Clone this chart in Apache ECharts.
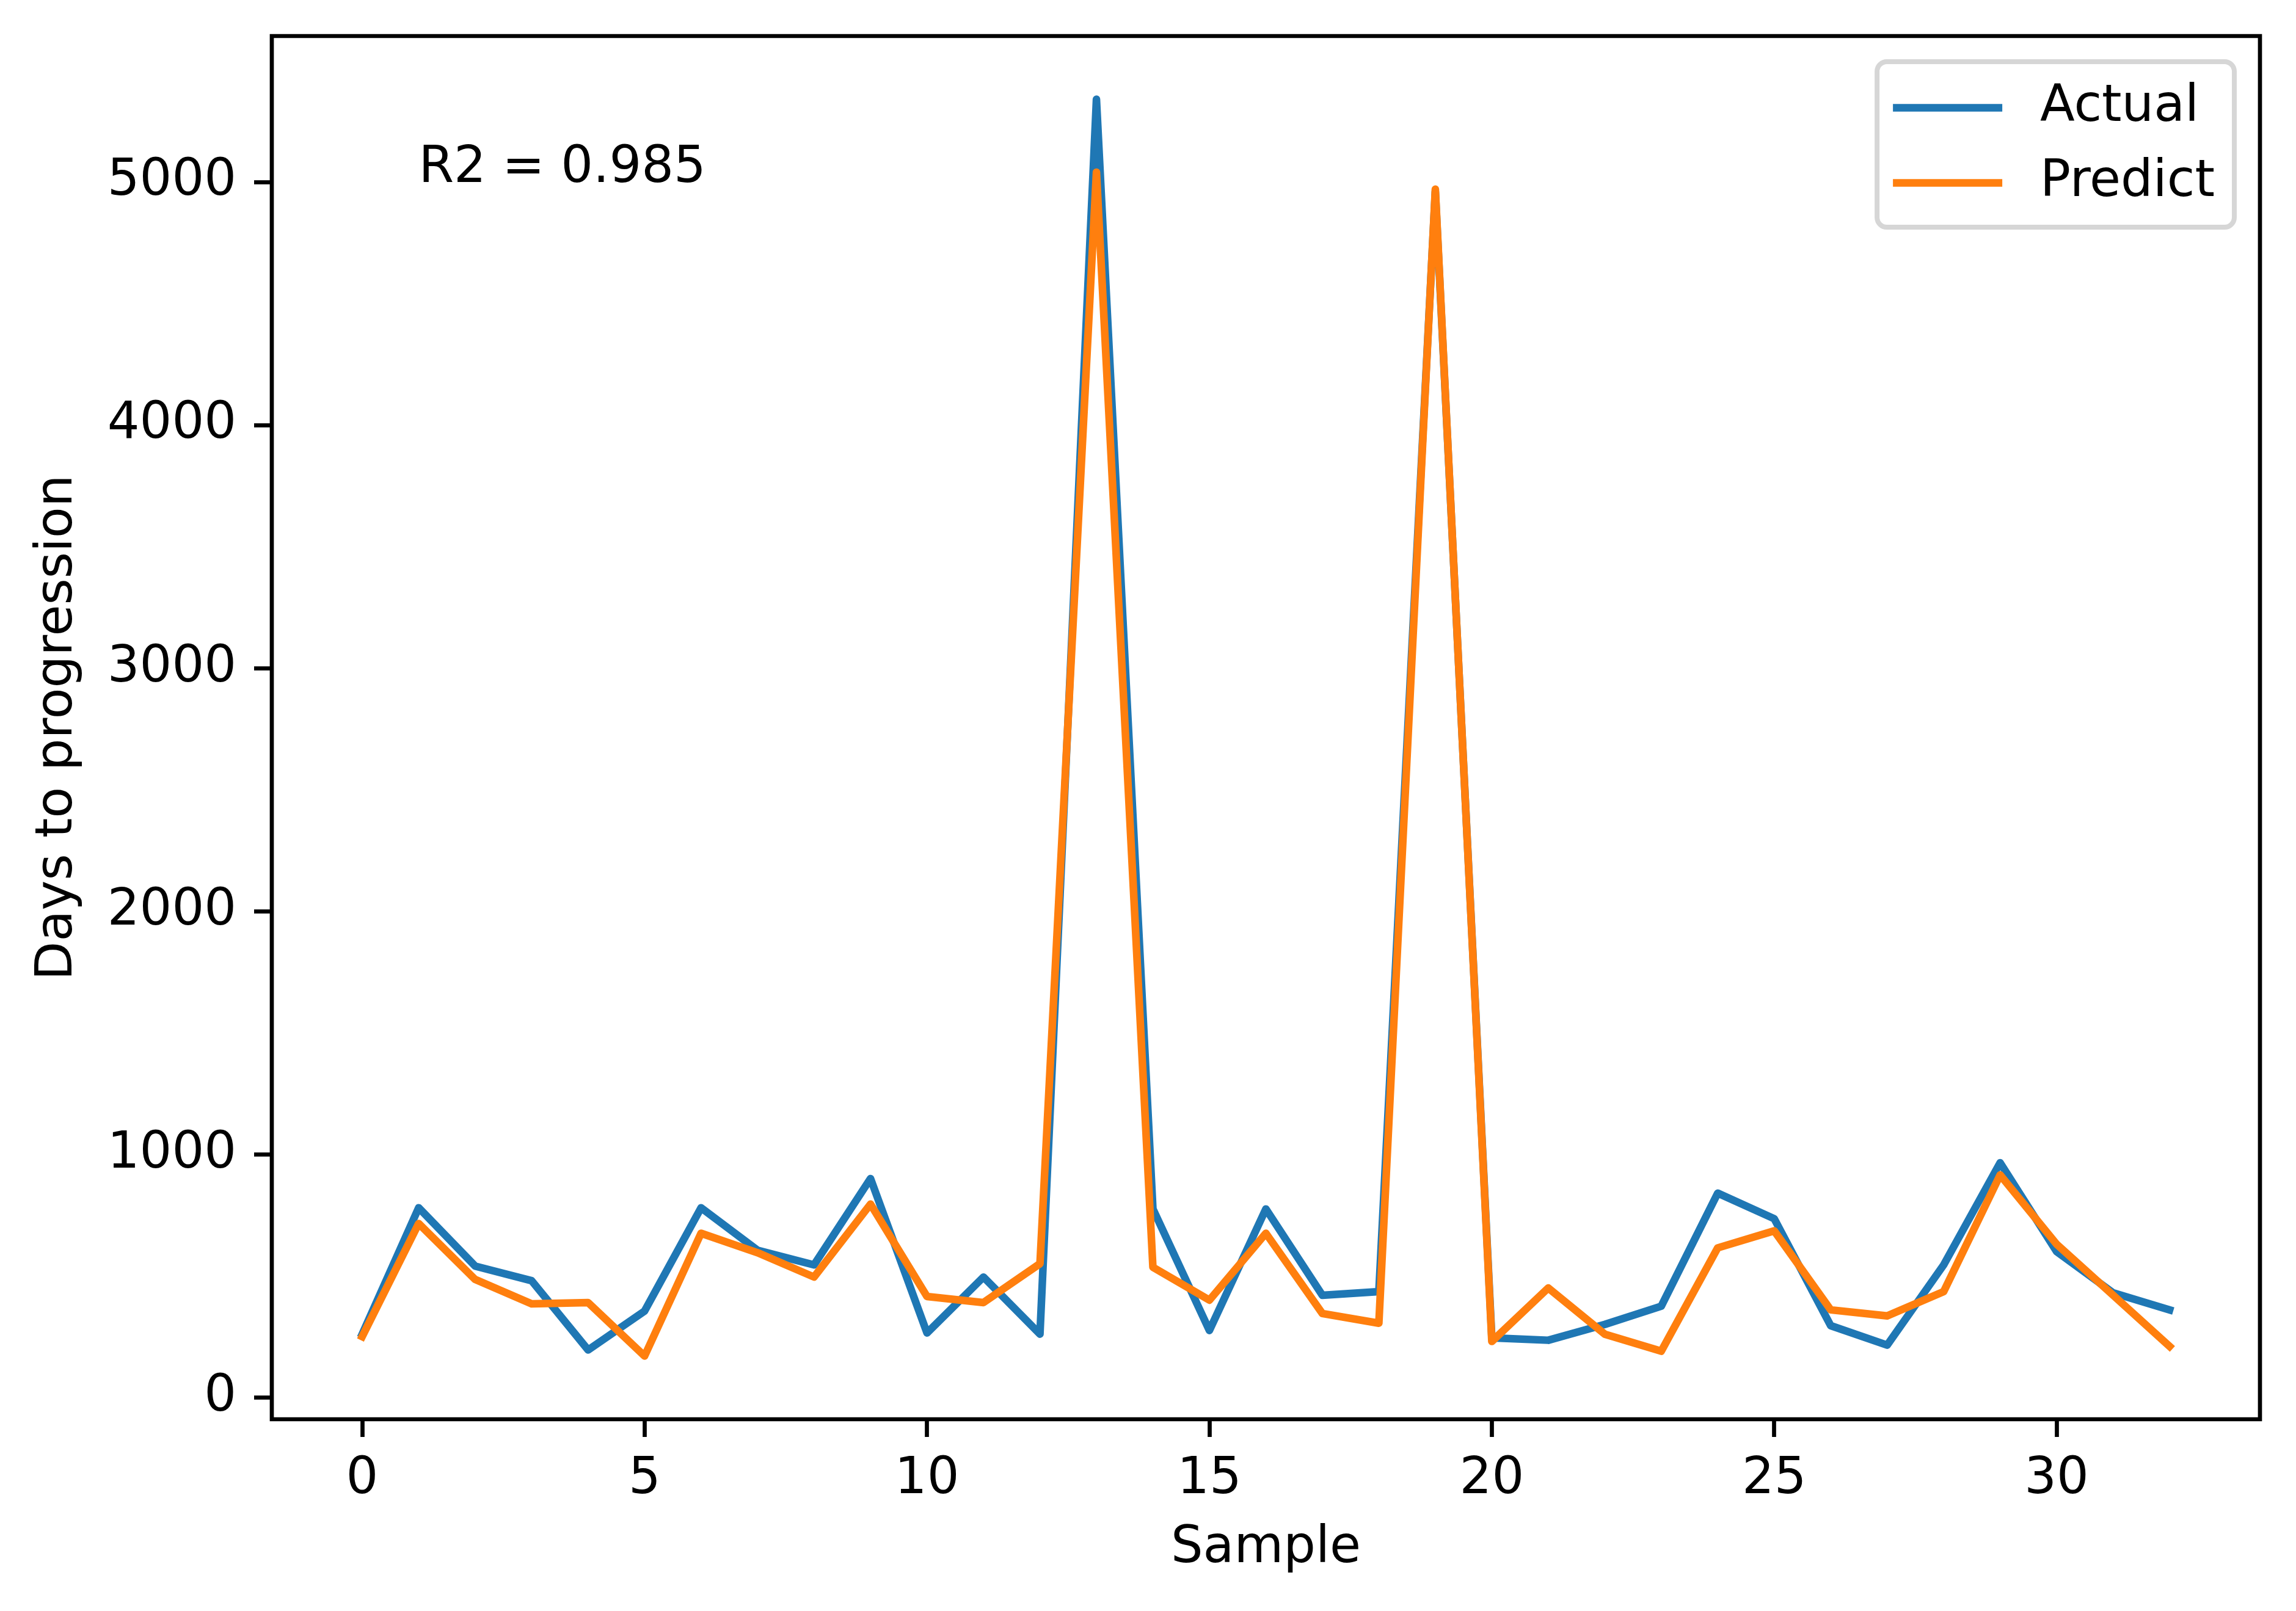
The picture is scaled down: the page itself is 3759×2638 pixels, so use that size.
<!DOCTYPE html>
<html>
<head>
<meta charset="utf-8">
<script src="https://cdn.jsdelivr.net/npm/echarts@6/dist/echarts.min.js"></script>
<style>
  html, body { margin: 0; padding: 0; background: #fff; }
  #chart { width: 3759px; height: 2638px; }
</style>
</head>
<body>
<div id="chart"></div>
<script>
// sample index on the x axis
const samples = [0, 1, 2, 3, 4, 5, 6, 7, 8, 9, 10, 11, 12, 13, 14, 15, 16,
  17, 18, 19, 20, 21, 22, 23, 24, 25, 26, 27, 28, 29, 30, 31, 32];
// days to progression
const actual = [260, 780, 540, 480, 195, 355, 780, 605, 545, 900, 265, 495, 260,
  5340, 775, 275, 775, 420, 435, 4960, 245, 235, 300, 375, 840, 735, 295, 215,
  545, 965, 600, 430, 360];
const predict = [250, 715, 485, 385, 390, 170, 675, 595, 495, 795, 415, 390, 550,
  5040, 535, 400, 675, 345, 305, 4970, 230, 450, 260, 190, 615, 685, 360, 335,
  435, 915, 630, 420, 210];
const xTicks = [0, 5, 10, 15, 20, 25, 30];
const yTicks = [0, 1000, 2000, 3000, 4000, 5000];
const r2Text = 'R2 = 0.985';
const r2Pos = [1, 5000];

const FONT = 'DejaVu Sans';
const FS = 83;

let chart = echarts.init(document.getElementById('chart'), null, {renderer: 'canvas'});

let pairs = (xs, ys) => xs.map((x, i) => [x, ys[i]]);

let tickStyle = {
  show: true,
  inside: false,
  length: 29,
  lineStyle: {color: '#000', width: 6.7}
};

let option = {
  backgroundColor: '#fff',
  animation: false,
  grid: {
    left: 445,
    right: 59,
    top: 59,
    bottom: 314,
    show: true,
    borderColor: '#000',
    borderWidth: 6.7,
    backgroundColor: '#fff'
  },
  legend: {
    data: ['Actual', 'Predict'],
    orient: 'vertical',
    right: 101,
    top: 101,
    icon: 'rect',
    itemWidth: 179,
    itemHeight: 12.5,
    itemGap: 40,
    padding: [34, 32, 31, 26],
    borderColor: '#d6d6d6',
    borderWidth: 8,
    borderRadius: 16,
    backgroundColor: '#fff',
    textStyle: {
      fontFamily: FONT,
      fontSize: FS,
      color: '#000',
      padding: [0, 0, 0, 57]
    }
  },
  xAxis: {
    type: 'value',
    min: -1.6,
    max: 33.6,
    name: 'Sample',
    nameLocation: 'middle',
    nameGap: 171,
    nameTextStyle: {fontFamily: FONT, fontSize: FS, color: '#000'},
    axisLine: {show: false, onZero: false},
    splitLine: {show: false},
    axisTick: Object.assign({customValues: xTicks}, tickStyle),
    axisLabel: {
      customValues: xTicks,
      margin: 58,
      formatter: v => String(v),
      fontFamily: FONT,
      fontSize: FS,
      color: '#000'
    }
  },
  yAxis: {
    type: 'value',
    min: -90,
    max: 5600,
    name: 'Days to progression',
    nameLocation: 'middle',
    nameRotate: 90,
    nameGap: 308,
    nameTextStyle: {fontFamily: FONT, fontSize: FS, color: '#000'},
    axisLine: {show: false, onZero: false},
    splitLine: {show: false},
    axisTick: Object.assign({customValues: yTicks}, tickStyle),
    axisLabel: {
      customValues: yTicks,
      margin: 58,
      formatter: v => String(v),
      fontFamily: FONT,
      fontSize: FS,
      color: '#000'
    }
  },
  series: [
    {
      name: 'Actual',
      type: 'line',
      data: pairs(samples, actual),
      symbol: 'none',
      color: '#1f77b4',
      lineStyle: {width: 12.5, color: '#1f77b4', join: 'round', cap: 'square'}
    },
    {
      name: 'Predict',
      type: 'line',
      data: pairs(samples, predict),
      symbol: 'none',
      color: '#ff7f0e',
      lineStyle: {width: 12.5, color: '#ff7f0e', join: 'round', cap: 'square'}
    },
    {
      // R2 annotation anchored at a data coordinate
      name: 'r2',
      type: 'scatter',
      data: [r2Pos],
      symbolSize: 0,
      silent: true,
      itemStyle: {color: '#000', opacity: 1},
      label: {
        show: true,
        formatter: r2Text,
        position: [0, 0],
        align: 'left',
        verticalAlign: 'bottom',
        offset: [0, 20],
        fontFamily: FONT,
        fontSize: FS,
        color: '#000',
        opacity: 1,
        textBorderWidth: 0
      },
      emphasis: {disabled: true}
    }
  ]
};

chart.setOption(option);
</script>
</body>
</html>
